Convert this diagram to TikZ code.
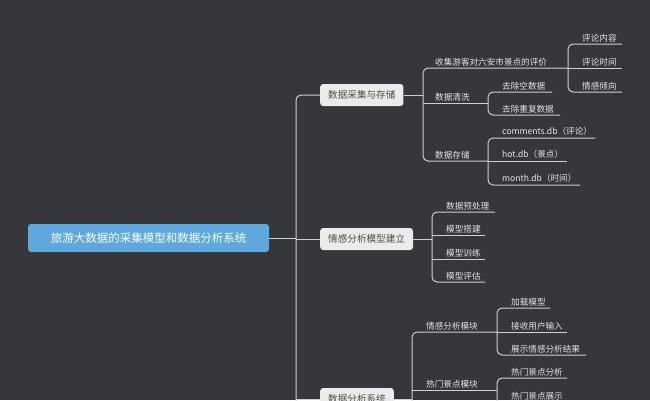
\documentclass[tikz,border=0pt]{standalone}
\usepackage{fontspec}
\setmainfont{Noto Sans CJK SC}
\definecolor{bgcol}{HTML}{36373C}
\definecolor{linecol}{HTML}{CFCFCF}
\definecolor{rootcol}{HTML}{5EA8DD}
\definecolor{boxcol}{HTML}{EBEBEB}
\tikzset{
  branch/.style={draw=linecol, line width=1pt, rounded corners=5pt},
  leaf/.style={anchor=south west, text=white!90!black, inner sep=2pt, font=\fontsize{8.6}{9}\selectfont},
  topic/.style={fill=boxcol, text=black!70, rounded corners=3pt, minimum height=22pt, inner xsep=8pt, font=\fontsize{9.6}{10}\selectfont},
  rootbox/.style={fill=rootcol, text=white, rounded corners=3pt, minimum height=28pt, minimum width=241pt, font=\fontsize{11.5}{12}\selectfont}
}
\begin{document}
\begin{tikzpicture}[x=1pt,y=-1pt]
		\fill[bgcol] (0,0) rectangle (650,400);
		\clip (0,0) rectangle (650,400);
		\useasboundingbox (0,0) rectangle (650,400);
		
		%root and main topics
		\node[rootbox] (root) at (148.5,238) {旅游大数据的采集模型和数据分析系统};
		\node[topic, anchor=west] (collect) at (320,95) {数据采集与存储};
		\node[topic, anchor=west] (model) at (320,239) {情感分析模型建立};
		\node[topic, anchor=west] (system) at (320,399) {数据分析系统};
		\draw[branch] (root.east) -- (296,238);
		\draw[branch] (collect.west) -- (296,95) -- (296,420);
		\draw[branch] (296,239) -- (model.west);
		\draw[branch] (296,399) -- (system.west);
		
		%data collection
		\node[leaf] (gather) at (433,68) {收集游客对六安市景点的评价};
		\node[leaf] (clean) at (433,103) {数据清洗};
		\node[leaf] (store) at (433,161) {数据存储};
		\draw[branch] (collect.east) -- (423,95);
		\draw[branch] (567,68) -- (423,68) -- (423,161) -- (488,161);
		\draw[branch] (423,103) -- (488,103);
		
		\node[leaf] (content) at (580,44) {评论内容};
		\node[leaf] (ctime) at (580,68) {评论时间};
		\node[leaf] (mood) at (580,92) {情感倾向};
		\draw[branch] (622,44) -- (568,44) -- (568,92) -- (622,92);
		\draw[branch] (567,68) -- (622,68);
		
		\node[leaf] (empty) at (500,92) {去除空数据};
		\node[leaf] (dup) at (500,115) {去除重复数据};
		\draw[branch] (552,92) -- (488,92) -- (488,115) -- (560,115);
		
		\node[leaf] (comments) at (500,138) {comments.db（评论）};
		\node[leaf] (hot) at (500,161) {hot.db（景点）};
		\node[leaf] (month) at (500,185) {month.db（时间）};
		\draw[branch] (595,138) -- (488,138) -- (488,185) -- (580,185);
		\draw[branch] (488,161) -- (567,161);
		
		%model
		\node[leaf] (prep) at (444,212) {数据预处理};
		\node[leaf] (build) at (444,235) {模型搭建};
		\node[leaf] (train) at (444,259) {模型训练};
		\node[leaf] (eval) at (444,282) {模型评估};
		\draw[branch] (model.east) -- (432,239);
		\draw[branch] (495,212) -- (432,212) -- (432,282) -- (485,282);
		\draw[branch] (432,235) -- (485,235);
		\draw[branch] (432,259) -- (485,259);
		
		%analysis system
		\node[leaf] (smod) at (424,332) {情感分析模块};
		\node[leaf] (hmod) at (424,390) {热门景点模块};
		\draw[branch] (system.east) -- (412,399);
		\draw[branch] (497,332) -- (412,332) -- (412,420);
		\draw[branch] (412,390) -- (497,390);
		
		\node[leaf] (load) at (509,308) {加载模型};
		\node[leaf] (input) at (509,332) {接收用户输入};
		\node[leaf] (show) at (509,355) {展示情感分析结果};
		\draw[branch] (550,308) -- (497,308) -- (497,355) -- (586,355);
		\draw[branch] (497,332) -- (567,332);
		
		\node[leaf] (hana) at (509,378) {热门景点分析};
		\node[leaf] (hshow) at (509,402) {热门景点展示};
		\draw[branch] (567,378) -- (497,378) -- (497,420);
		\draw[branch] (497,402) -- (567,402);
\end{tikzpicture}
\end{document}
